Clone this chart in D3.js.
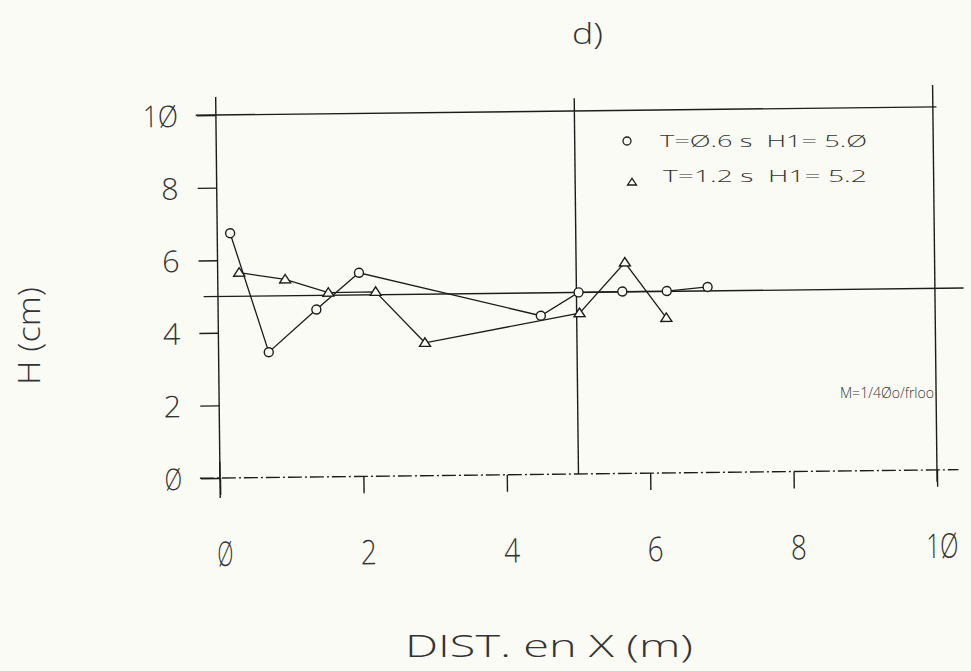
<!DOCTYPE html>
<html>
<head>
<meta charset="utf-8">
<script src="https://cdn.jsdelivr.net/npm/d3@7"></script>
<style>
  html, body { margin: 0; padding: 0; background: #fbfbf6; }
  svg { display: block; }
  text { font-family: "Open Sans", "DejaVu Sans", sans-serif; font-weight: 300; fill: #333; white-space: pre; }
</style>
</head>
<body>
<svg id="chart" width="971" height="671"></svg>
<script>
// ---- data ----
const xTickValues = [0, 2, 4, 6, 8, 10];
const xTickLabels = ["Ø", "2", "4", "6", "8", "1Ø"];
const yTickValues = [0, 2, 4, 6, 8, 10];
const yTickLabels = ["Ø", "2", "4", "6", "8", "1Ø"];

// series T=0.6 s (circles)
const circleX = [0.18, 0.70, 1.37, 1.97, 4.50, 5.03, 5.64, 6.26, 6.83];
const circleH = [6.74, 3.45, 4.61, 5.61, 4.37, 5.00, 5.01, 5.01, 5.11];
// series T=1.2 s (triangles)
const triX = [0.30, 0.94, 1.54, 2.20, 2.88, 5.04, 5.68, 6.25];
const triH = [5.65, 5.45, 5.07, 5.08, 3.66, 4.43, 5.81, 4.27];

const legendLabels = ["T=Ø.6 s  H1= 5.Ø", "T=1.2 s  H1= 5.2"];
const noteText = "M=1/4Øo/frloo";
const titleText = "d)";
const xTitle = "DIST. en X (m)";
const yTitle = "H (cm)";
const refLevel = 5;      // horizontal reference line H = 5
const topLevel = 10;     // horizontal line H = 10
const midDist = 5;       // vertical line at X = 5
const endDist = 10;      // vertical line at X = 10

// ---- layout ----
const svg = d3.select("#chart");
const ink = "#1c1c1c";
const x = d3.scaleLinear().domain([0, 10]).range([220, 937]);
const y = d3.scaleLinear().domain([0, 10]).range([478, 115]);

// scanned sheet is slightly rotated
const plot = svg.append("g").attr("transform", "rotate(-0.65 220 478)");

const line = d3.line().x(d => x(d[0])).y(d => y(d[1]));
function seg(pts, extra) {
  const p = plot.append("path").attr("d", line(pts))
    .attr("fill", "none").attr("stroke", ink).attr("stroke-width", 1.4);
  if (extra) extra(p);
  return p;
}

// y axis line
seg([[0, -0.55], [0, 10.5]]);
// H = 10 line
seg([[-0.28, topLevel], [10.05, topLevel]]);
// H = 5 reference line
seg([[-0.2, refLevel], [10.4, refLevel]]);
// H = 0 dash-dot baseline
seg([[-0.28, 0], [10.3, 0]], p => p.attr("stroke-dasharray", "14,3,2,3").attr("stroke-width", 1.3));
// vertical lines at X=5 and X=10
seg([[midDist, 0], [midDist, 10.35]]);
seg([[endDist, -0.33], [endDist, 10.6]]);

// y ticks (to the left)
const yAxis = d3.axisLeft(y).tickValues(yTickValues).tickSize(19).tickFormat((d, i) => yTickLabels[i]);
const gy = plot.append("g").attr("transform", `translate(${x(0)},0)`).call(yAxis);
gy.select(".domain").remove();
gy.selectAll(".tick line").attr("stroke", ink).attr("stroke-width", 1.4);
gy.selectAll(".tick text")
  .attr("x", -38).attr("dy", null).attr("y", 11)
  .attr("text-anchor", "end")
  .style("font-size", "30px")
  .attr("fill", "#333")
  .attr("textLength", (d, i) => yTickLabels[i].length * 17.5)
  .attr("lengthAdjust", "spacingAndGlyphs");

// x ticks (downwards)
const xAxis = d3.axisBottom(x).tickValues(xTickValues).tickSize(17).tickFormat((d, i) => xTickLabels[i]);
const gx = plot.append("g").attr("transform", `translate(0,${y(0)})`).call(xAxis);
gx.select(".domain").remove();
gx.selectAll(".tick line").attr("stroke", ink).attr("stroke-width", 1.4);
gx.selectAll(".tick text")
  .attr("x", 4).attr("dy", null).attr("y", 88)
  .attr("text-anchor", "middle")
  .style("font-size", "34px")
  .attr("fill", "#333")
  .attr("textLength", (d, i) => xTickLabels[i].length * 16)
  .attr("lengthAdjust", "spacingAndGlyphs");
// tick at 0 also crosses above the axis
seg([[0, 0], [0, 0.45]]);

// series lines
const circlePts = circleX.map((v, i) => [v, circleH[i]]);
const triPts = triX.map((v, i) => [v, triH[i]]);
plot.append("path").attr("d", line(circlePts)).attr("fill", "none").attr("stroke", ink).attr("stroke-width", 1.3);
plot.append("path").attr("d", line(triPts)).attr("fill", "none").attr("stroke", ink).attr("stroke-width", 1.3);

const triPath = "M-5.5,3.5L0,-5L5.5,3.5Z";
// markers
plot.selectAll(".cm").data(circlePts).enter().append("circle")
  .attr("cx", d => x(d[0])).attr("cy", d => y(d[1])).attr("r", 4.5)
  .attr("fill", "#fbfbf6").attr("stroke", ink).attr("stroke-width", 1.4);
plot.selectAll(".tm").data(triPts).enter().append("path")
  .attr("d", triPath).attr("transform", d => `translate(${x(d[0])},${y(d[1])})`)
  .attr("fill", "#fbfbf6").attr("stroke", ink).attr("stroke-width", 1.4);

// ---- free texts (image coordinates) ----
svg.append("text").attr("x", 572).attr("y", 44).style("font-size", "30px")
  .attr("textLength", 31).attr("lengthAdjust", "spacingAndGlyphs").text(titleText);

svg.append("text").attr("x", 405).attr("y", 657).style("font-size", "32px")
  .attr("textLength", 288).attr("lengthAdjust", "spacingAndGlyphs").text(xTitle);

svg.append("text").attr("transform", "translate(40,336) rotate(-90)")
  .attr("text-anchor", "middle").style("font-size", "32px")
  .attr("textLength", 98).attr("lengthAdjust", "spacingAndGlyphs").text(yTitle);

// legend
svg.append("circle").attr("cx", 627).attr("cy", 141).attr("r", 4)
  .attr("fill", "none").attr("stroke", ink).attr("stroke-width", 1.3);
svg.append("path").attr("d", "M-4.5,3L0,-3.5L4.5,3Z").attr("transform", "translate(632,182)")
  .attr("fill", "none").attr("stroke", ink).attr("stroke-width", 1.3);
svg.append("text").attr("x", 660).attr("y", 147).style("font-size", "17px")
  .attr("textLength", 207).attr("lengthAdjust", "spacingAndGlyphs").text(legendLabels[0]);
svg.append("text").attr("x", 663).attr("y", 182).style("font-size", "17px")
  .attr("textLength", 204).attr("lengthAdjust", "spacingAndGlyphs").text(legendLabels[1]);

// note
svg.append("text").attr("x", 840).attr("y", 398).style("font-size", "14px")
  .attr("textLength", 94).attr("lengthAdjust", "spacingAndGlyphs").text(noteText);
</script>
</body>
</html>
